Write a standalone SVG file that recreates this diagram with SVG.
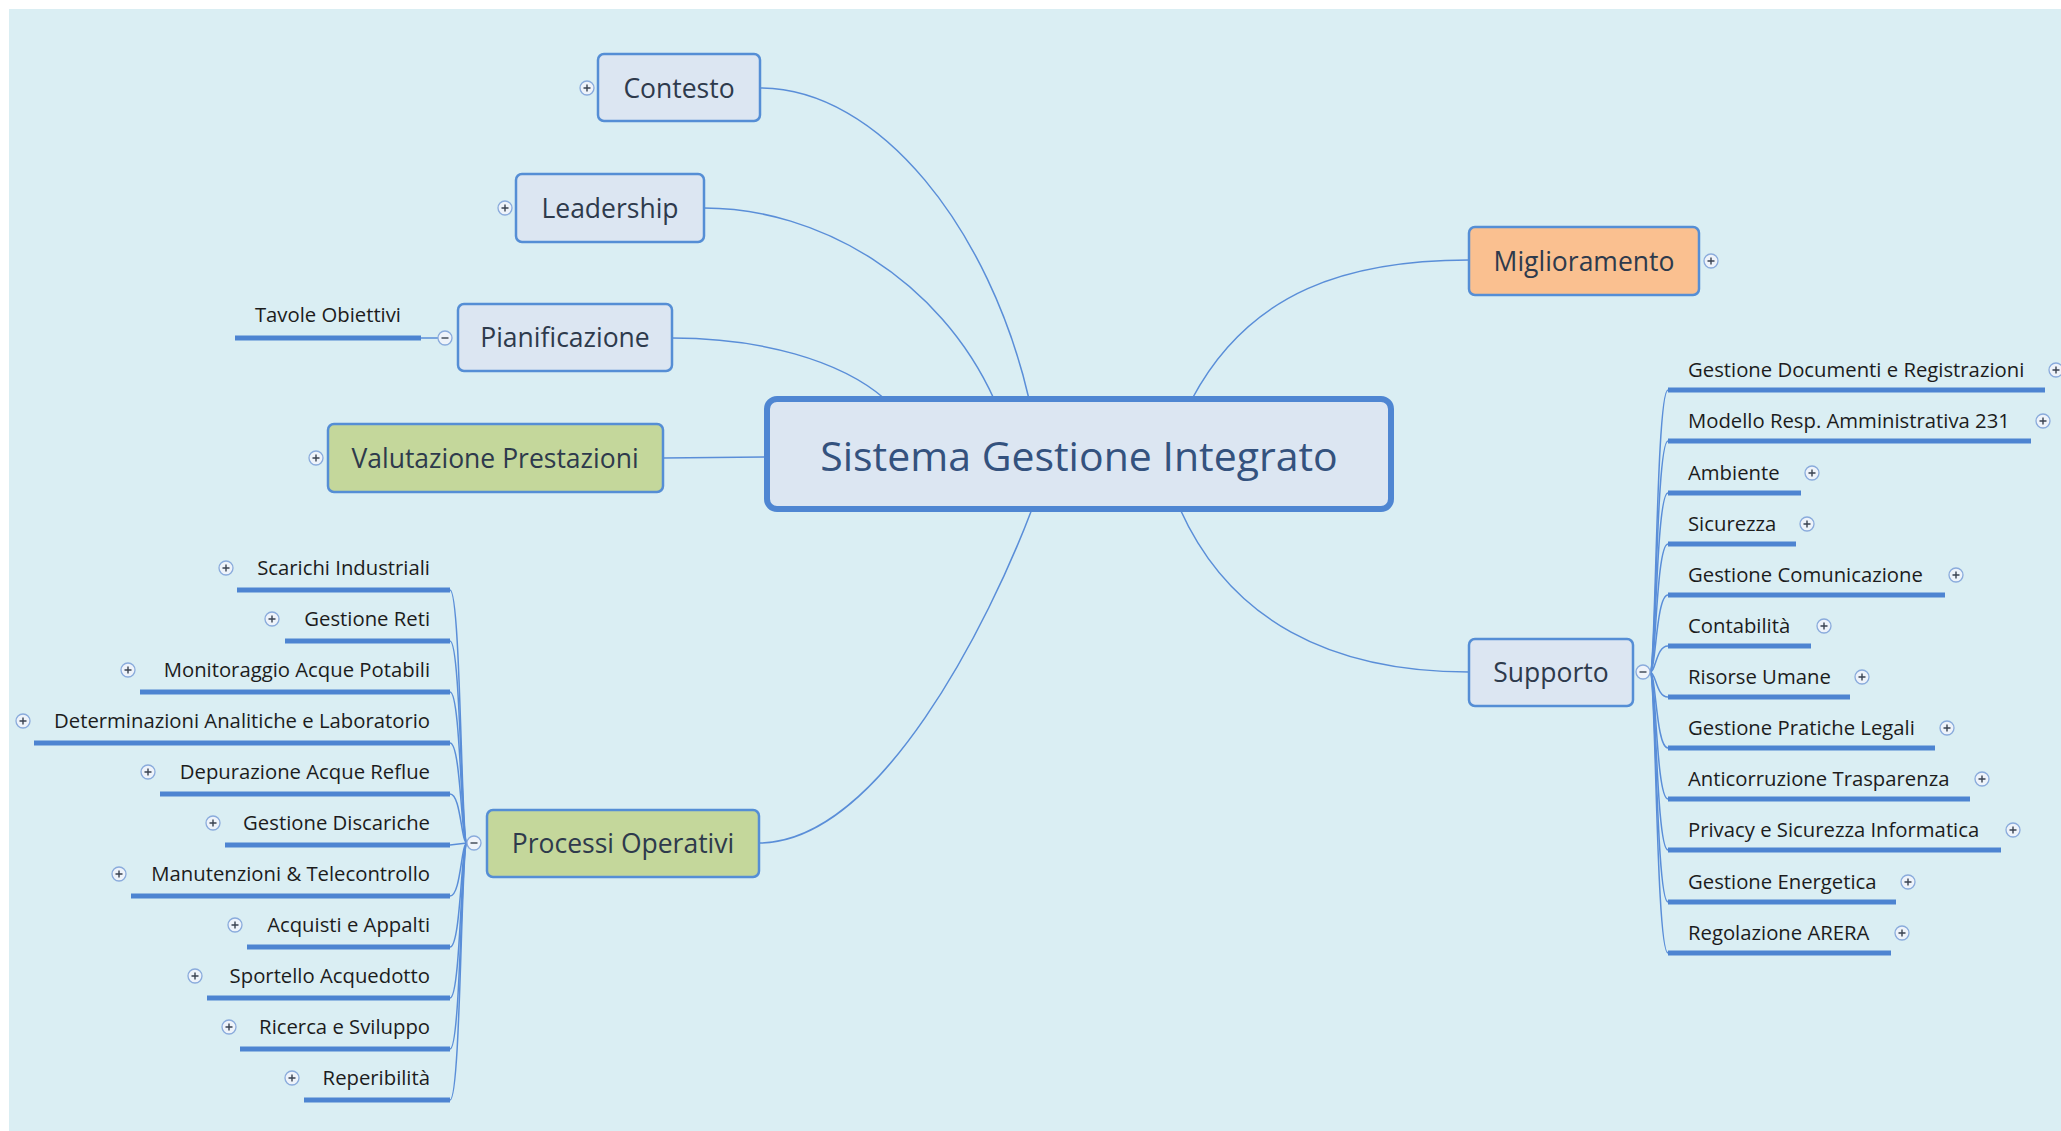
<svg xmlns="http://www.w3.org/2000/svg" xmlns:xlink="http://www.w3.org/1999/xlink" width="2061" height="1131" viewBox="0 0 2061 1131">
<style>
.node rect{fill:#dce6f2;stroke:#558ed5;stroke-width:2.5}
.node.green rect{fill:#c4d79b}
.node.orange rect{fill:#fac090}
.node text{font-family:"Open Sans","DejaVu Sans",sans-serif;font-size:26.5px;fill:#2e3a4c;text-anchor:middle}
.central rect{fill:#dce6f2;stroke:#4f86d2;stroke-width:6}
.central text{font-family:"Open Sans","DejaVu Sans",sans-serif;font-size:41px;fill:#34527e;text-anchor:middle}
.conn path{fill:none;stroke:#5a8ed8;stroke-width:1.5}
.bar{stroke:#4d84d1;stroke-width:5;fill:none}
.leaf text{font-family:"Open Sans","DejaVu Sans",sans-serif;font-size:20.3px;fill:#1c1c1c}
.left text{text-anchor:end}
.ico circle{fill:#eef3fa;stroke:#8aabdc;stroke-width:1.3}
.ico path{stroke:#3a4250;stroke-width:1.4;fill:none}
</style>
<defs>
<g id="plus" class="ico"><circle r="7"/><path d="M-3.5 0H3.5M0 -3.5V3.5"/></g>
<g id="minus" class="ico"><circle r="7"/><path d="M-3.5 0H3.5"/></g>
</defs>
<rect width="2061" height="1131" fill="#ffffff"/>
<rect x="9" y="9" width="2052" height="1122" fill="#daeef3"/>

<g id="connectors" class="conn">
<path d="M760 88 C880 88 990 230 1029 399"/>
<path d="M704 208 C820 208 940 280 994 399"/>
<path d="M672 338 C760 338 840 360 885 399"/>
<path d="M663 458 L767 457"/>
<path d="M759 843 C880 843 990 620 1032 509"/>
<path d="M1192 399 C1250 290 1350 260 1469 260"/>
<path d="M1180 509 C1230 620 1330 672 1469 672"/>
<path d="M421 338 L438 338"/>
<path d="M467 843 C461 843 461 590 450 590"/>
<path d="M467 843 C461 843 461 641 450 641"/>
<path d="M467 843 C461 843 461 692 450 692"/>
<path d="M467 843 C461 843 461 743 450 743"/>
<path d="M467 843 C461 843 461 794 450 794"/>
<path d="M467 843 L450 845"/>
<path d="M467 843 C461 843 461 896 450 896"/>
<path d="M467 843 C461 843 461 947 450 947"/>
<path d="M467 843 C461 843 461 998 450 998"/>
<path d="M467 843 C461 843 461 1049 450 1049"/>
<path d="M467 843 C461 843 461 1100 450 1100"/>
<path d="M1650 672 C1656 672 1656 390 1668 390"/>
<path d="M1650 672 C1656 672 1656 441 1668 441"/>
<path d="M1650 672 C1656 672 1656 493 1668 493"/>
<path d="M1650 672 C1656 672 1656 544 1668 544"/>
<path d="M1650 672 C1656 672 1656 595 1668 595"/>
<path d="M1650 672 C1656 672 1656 646 1668 646"/>
<path d="M1650 672 C1656 672 1656 697 1668 697"/>
<path d="M1650 672 C1656 672 1656 748 1668 748"/>
<path d="M1650 672 C1656 672 1656 799 1668 799"/>
<path d="M1650 672 C1656 672 1656 850 1668 850"/>
<path d="M1650 672 C1656 672 1656 902 1668 902"/>
<path d="M1650 672 C1656 672 1656 953 1668 953"/>
</g>

<g id="central" class="central"><rect x="767" y="399" width="624" height="110" rx="10"/><text x="1079" y="471">Sistema Gestione Integrato</text></g>

<g id="contesto" class="node"><rect x="598" y="54" width="162" height="67" rx="6"/><text x="679" y="98">Contesto</text><use href="#plus" x="587" y="88"/></g>
<g id="leadership" class="node"><rect x="516" y="174" width="188" height="68" rx="6"/><text x="610" y="218">Leadership</text><use href="#plus" x="505" y="208"/></g>
<g id="pianificazione" class="node"><rect x="458" y="304" width="214" height="67" rx="6"/><text x="565" y="347">Pianificazione</text><use href="#minus" x="445" y="338"/></g>
<g id="valutazione" class="node green"><rect x="328" y="424" width="335" height="68" rx="6"/><text x="495" y="468">Valutazione Prestazioni</text><use href="#plus" x="316" y="458"/></g>
<g id="processi" class="node green"><rect x="487" y="810" width="272" height="67" rx="6"/><text x="623" y="853">Processi Operativi</text><use href="#minus" x="474" y="843"/></g>
<g id="miglioramento" class="node orange"><rect x="1469" y="227" width="230" height="68" rx="6"/><text x="1584" y="271">Miglioramento</text><use href="#plus" x="1711" y="261"/></g>
<g id="supporto" class="node"><rect x="1469" y="639" width="164" height="67" rx="6"/><text x="1551" y="682">Supporto</text><use href="#minus" x="1643" y="672"/></g>

<g id="tavole" class="leaf left"><line class="bar" x1="235" y1="338" x2="421" y2="338"/><text x="401" y="322">Tavole Obiettivi</text></g>

<g id="scarichi" class="leaf left"><line class="bar" x1="237" y1="590" x2="450" y2="590"/><text x="430" y="575">Scarichi Industriali</text><use href="#plus" x="226" y="568"/></g>
<g id="reti" class="leaf left"><line class="bar" x1="285" y1="641" x2="450" y2="641"/><text x="430" y="626">Gestione Reti</text><use href="#plus" x="272" y="619"/></g>
<g id="monitoraggio" class="leaf left"><line class="bar" x1="140" y1="692" x2="450" y2="692"/><text x="430" y="677">Monitoraggio Acque Potabili</text><use href="#plus" x="128" y="670"/></g>
<g id="determinazioni" class="leaf left"><line class="bar" x1="34" y1="743" x2="450" y2="743"/><text x="430" y="728">Determinazioni Analitiche e Laboratorio</text><use href="#plus" x="23" y="721"/></g>
<g id="depurazione" class="leaf left"><line class="bar" x1="160" y1="794" x2="450" y2="794"/><text x="430" y="779">Depurazione Acque Reflue</text><use href="#plus" x="148" y="772"/></g>
<g id="discariche" class="leaf left"><line class="bar" x1="225" y1="845" x2="450" y2="845"/><text x="430" y="830">Gestione Discariche</text><use href="#plus" x="213" y="823"/></g>
<g id="manutenzioni" class="leaf left"><line class="bar" x1="131" y1="896" x2="450" y2="896"/><text x="430" y="881">Manutenzioni &amp; Telecontrollo</text><use href="#plus" x="119" y="874"/></g>
<g id="acquisti" class="leaf left"><line class="bar" x1="247" y1="947" x2="450" y2="947"/><text x="430" y="932">Acquisti e Appalti</text><use href="#plus" x="235" y="925"/></g>
<g id="sportello" class="leaf left"><line class="bar" x1="207" y1="998" x2="450" y2="998"/><text x="430" y="983">Sportello Acquedotto</text><use href="#plus" x="195" y="976"/></g>
<g id="ricerca" class="leaf left"><line class="bar" x1="240" y1="1049" x2="450" y2="1049"/><text x="430" y="1034">Ricerca e Sviluppo</text><use href="#plus" x="229" y="1027"/></g>
<g id="reperibilita" class="leaf left"><line class="bar" x1="304" y1="1100" x2="450" y2="1100"/><text x="430" y="1085">Reperibilità</text><use href="#plus" x="292" y="1078"/></g>

<g id="documenti" class="leaf"><line class="bar" x1="1668" y1="390" x2="2045" y2="390"/><text x="1688" y="377">Gestione Documenti e Registrazioni</text><use href="#plus" x="2056" y="370"/></g>
<g id="modello" class="leaf"><line class="bar" x1="1668" y1="441" x2="2031" y2="441"/><text x="1688" y="428">Modello Resp. Amministrativa 231</text><use href="#plus" x="2043" y="421"/></g>
<g id="ambiente" class="leaf"><line class="bar" x1="1668" y1="493" x2="1801" y2="493"/><text x="1688" y="480">Ambiente</text><use href="#plus" x="1812" y="473"/></g>
<g id="sicurezza" class="leaf"><line class="bar" x1="1668" y1="544" x2="1796" y2="544"/><text x="1688" y="531">Sicurezza</text><use href="#plus" x="1807" y="524"/></g>
<g id="comunicazione" class="leaf"><line class="bar" x1="1668" y1="595" x2="1945" y2="595"/><text x="1688" y="582">Gestione Comunicazione</text><use href="#plus" x="1956" y="575"/></g>
<g id="contabilita" class="leaf"><line class="bar" x1="1668" y1="646" x2="1811" y2="646"/><text x="1688" y="633">Contabilità</text><use href="#plus" x="1824" y="626"/></g>
<g id="risorse" class="leaf"><line class="bar" x1="1668" y1="697" x2="1850" y2="697"/><text x="1688" y="684">Risorse Umane</text><use href="#plus" x="1862" y="677"/></g>
<g id="legali" class="leaf"><line class="bar" x1="1668" y1="748" x2="1935" y2="748"/><text x="1688" y="735">Gestione Pratiche Legali</text><use href="#plus" x="1947" y="728"/></g>
<g id="anticorruzione" class="leaf"><line class="bar" x1="1668" y1="799" x2="1970" y2="799"/><text x="1688" y="786">Anticorruzione Trasparenza</text><use href="#plus" x="1982" y="779"/></g>
<g id="privacy" class="leaf"><line class="bar" x1="1668" y1="850" x2="2001" y2="850"/><text x="1688" y="837">Privacy e Sicurezza Informatica</text><use href="#plus" x="2013" y="830"/></g>
<g id="energetica" class="leaf"><line class="bar" x1="1668" y1="902" x2="1896" y2="902"/><text x="1688" y="889">Gestione Energetica</text><use href="#plus" x="1908" y="882"/></g>
<g id="arera" class="leaf"><line class="bar" x1="1668" y1="953" x2="1891" y2="953"/><text x="1688" y="940">Regolazione ARERA</text><use href="#plus" x="1902" y="933"/></g>
</svg>
